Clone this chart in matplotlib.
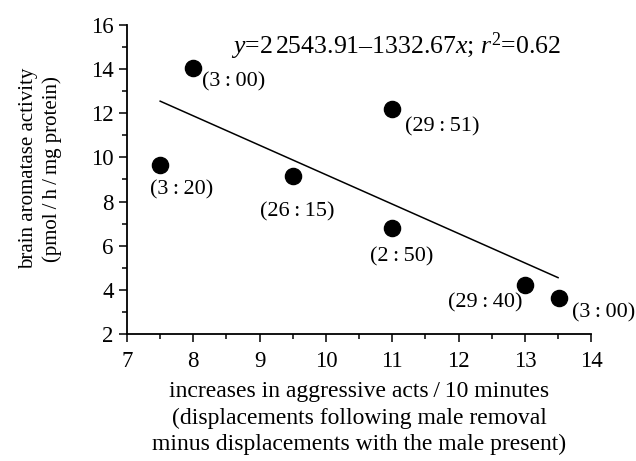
import matplotlib
matplotlib.use("Agg")
import matplotlib.pyplot as plt
from matplotlib.ticker import MultipleLocator

plt.rcParams['font.family'] = ['Liberation Serif', 'DejaVu Serif']
plt.rcParams['mathtext.fontset'] = 'custom'
plt.rcParams['mathtext.rm'] = 'Liberation Serif'
plt.rcParams['mathtext.it'] = 'Liberation Serif:italic'

x_vals = [8.0, 7.5, 9.5, 11.0, 11.0, 13.0, 13.52]
y_vals = [14.05, 9.66, 9.16, 12.19, 6.8, 4.22, 3.63]
labels = ["(3\u2009:\u200900)", "(3\u2009:\u200920)", "(26\u2009:\u200915)", "(29\u2009:\u200951)",
          "(2\u2009:\u200950)", "(29\u2009:\u200940)", "(3\u2009:\u200900)"]
# label offsets in points (dx, dy) and horizontal alignment
offsets = [(6, -10, 'left'), (-7, -18, 'left'), (3, -26, 'center'), (9, -13, 'left'),
           (7, -21, 'center'), (-2, -13, 'right'), (9, -11, 'left')]
intercept = 22.54391
slope = -1.33267
line_x = [7.5, 13.5]

fig = plt.figure(figsize=(6.36, 4.61), dpi=100)
ax = fig.add_axes([0.1997, 0.2755, 0.7299, 0.6703])

ax.scatter(x_vals, y_vals, s=135, color='black', zorder=3)
ax.plot(line_x, [intercept + slope * v for v in line_x], color='black', lw=1.1)

for xv, yv, lab, (dx, dy, ha) in zip(x_vals, y_vals, labels, offsets):
    ax.annotate(lab, (xv, yv), xytext=(dx, dy), textcoords='offset points',
                ha=ha, va='center', fontsize=16)

ax.text(11.05, 15.05, r'$y$=2$\,$2543.91–1332.67$x$; $r^2$=0.62', ha='center', va='center', fontsize=18.5)

ax.set_xlim(7, 14)
ax.set_ylim(2, 16)
ax.xaxis.set_major_locator(MultipleLocator(1))
ax.xaxis.set_minor_locator(MultipleLocator(0.5))
ax.yaxis.set_major_locator(MultipleLocator(2))
ax.yaxis.set_minor_locator(MultipleLocator(1))
ax.tick_params(which='major', direction='out', length=6, width=1.1, labelsize=16.5, colors='black')
ax.tick_params(which='minor', direction='out', length=3.5, width=1.1)
ax.tick_params(axis='x', pad=6)
for s in ['top', 'right']:
    ax.spines[s].set_visible(False)
for s in ['left', 'bottom']:
    ax.spines[s].set_linewidth(1.3)

ax.set_xlabel("increases in aggressive acts\u2009/\u200910 minutes\n(displacements following male removal\nminus displacements with the male present)",
              fontsize=17, linespacing=1.33, labelpad=7)
ax.set_ylabel("brain aromatase activity\n(pmol\u2009/\u2009h\u2009/\u2009mg protein)", fontsize=15, linespacing=1.3)
ax.yaxis.set_label_coords(-0.14, 0.535)

fig.savefig("out.png", dpi=100)
